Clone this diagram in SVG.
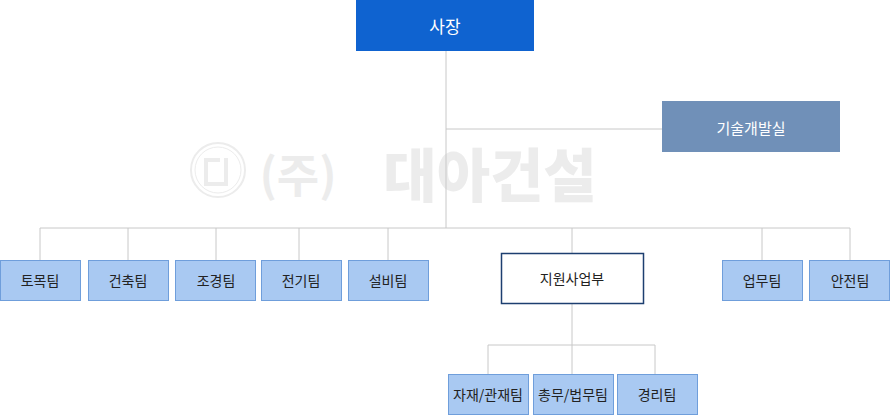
<svg xmlns="http://www.w3.org/2000/svg" width="890" height="416" viewBox="0 0 890 416">
<style>
text{font-family:"Noto Sans CJK KR","Noto Sans",sans-serif;text-anchor:middle;dominant-baseline:central}
.t{fill:#a9c9f2;stroke:#6f9edb;stroke-width:1}
.tt{font-size:14px;fill:#222}
.ln{stroke:#c8c8c8;stroke-width:1;fill:none}
.wm{fill:#ececec}
</style>
<g id="watermark">
<circle cx="218" cy="170" r="27" fill="none" stroke="#ececec" stroke-width="2"/>
<circle cx="218" cy="170" r="23" fill="none" stroke="#ececec" stroke-width="1"/>
<path d="M204 158h16v4h-12v20h16v-24h4v28h-24z" class="wm"/>
<text x="298" y="172" class="wm" style="font-size:46px;font-weight:bold">(주)</text>
<text x="490" y="172" class="wm" style="font-size:58px;font-weight:900">대아건설</text>
</g>
<g id="connectors" class="ln">
<path d="M446 51V228M446 129H662M40 228H850M40 228V260M128 228V260M216 228V260M299 228V260M388 228V260M572 228V253M762 228V260M850 228V260"/>
<path d="M572 303V345M488 345H655M488 345V374M572 345V374M655 345V374"/>
</g>
<g id="ceo"><rect x="356" y="0" width="178" height="51" fill="#0f63d0"/><text x="445" y="25" style="font-size:17px;fill:#fff">사장</text></g>
<g id="rnd"><rect x="662" y="101" width="178" height="51" fill="#7090b8"/><text x="751" y="127" style="font-size:15px;fill:#fff">기술개발실</text></g>
<g id="n1"><rect class="t" x="0.5" y="260.5" width="80" height="40"/><text class="tt" x="40" y="280">토목팀</text></g>
<g id="n2"><rect class="t" x="88.5" y="260.5" width="80" height="40"/><text class="tt" x="128" y="280">건축팀</text></g>
<g id="n3"><rect class="t" x="175.5" y="260.5" width="80" height="40"/><text class="tt" x="216" y="280">조경팀</text></g>
<g id="n4"><rect class="t" x="261.5" y="260.5" width="80" height="40"/><text class="tt" x="301" y="280">전기팀</text></g>
<g id="n5"><rect class="t" x="348.5" y="260.5" width="80" height="40"/><text class="tt" x="388" y="280">설비팀</text></g>
<g id="n6"><rect x="501.5" y="253.5" width="142" height="50" fill="#fff" stroke="#1d3f70" stroke-width="1.5"/><text class="tt" x="572" y="278">지원사업부</text></g>
<g id="n7"><rect class="t" x="722.5" y="260.5" width="80" height="40"/><text class="tt" x="762" y="280">업무팀</text></g>
<g id="n8"><rect class="t" x="809.5" y="260.5" width="80" height="40"/><text class="tt" x="850" y="280">안전팀</text></g>
<g id="s1"><rect class="t" x="448.5" y="374.5" width="80" height="40"/><text class="tt" x="488" y="394">자재/관재팀</text></g>
<g id="s2"><rect class="t" x="533.5" y="374.5" width="80" height="40"/><text class="tt" x="573" y="394">총무/법무팀</text></g>
<g id="s3"><rect class="t" x="617.5" y="374.5" width="80" height="40"/><text class="tt" x="657" y="394">경리팀</text></g>
</svg>
